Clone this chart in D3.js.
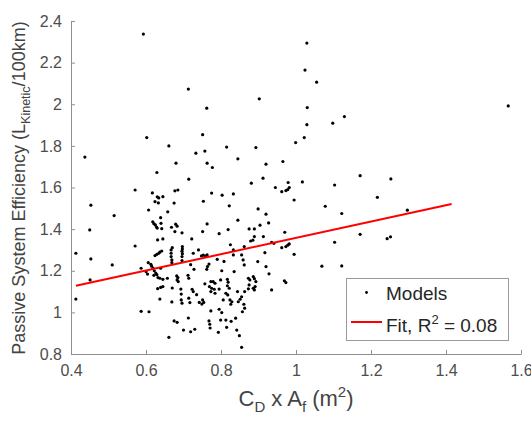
<!DOCTYPE html>
<html>
<head>
<meta charset="utf-8">
<script src="https://cdn.jsdelivr.net/npm/d3@7"></script>
<style>
  body { margin: 0; background: #fff; }
  svg { display: block; }
  text { font-family: "Liberation Sans", Arial, Helvetica, sans-serif; }
</style>
</head>
<body>
<div id="chart"></div>
<script>
// C_D x A_f (m^2) vs passive system efficiency, one point per model
const models = [
  [0.593,2.337],[1.029,2.294],[1.024,2.164],[1.055,2.106],[0.713,2.073],[0.902,2.026],[0.762,1.981],[1.030,1.984],
  [1.566,1.992],[1.029,1.902],[1.098,1.909],[1.129,1.941],[0.751,1.854],[0.602,1.840],[1.022,1.840],[0.999,1.816],
  [0.661,1.800],[0.815,1.794],[0.893,1.792],[0.437,1.746],[0.733,1.765],[0.757,1.775],[0.845,1.738],[0.965,1.725],
  [0.680,1.717],[0.763,1.717],[0.777,1.696],[0.920,1.712],[0.629,1.672],[1.171,1.657],[1.253,1.641],[0.714,1.640],
  [0.881,1.621],[0.912,1.645],[0.979,1.624],[1.017,1.627],[1.103,1.612],[0.945,1.600],[0.962,1.580],[0.973,1.585],
  [0.978,1.590],[0.982,1.600],[0.571,1.588],[0.617,1.574],[0.630,1.555],[0.634,1.550],[0.645,1.556],[0.624,1.532],
  [0.633,1.526],[0.677,1.584],[0.685,1.588],[0.675,1.525],[0.753,1.534],[0.775,1.573],[0.803,1.563],[0.833,1.569],
  [0.995,1.540],[1.217,1.553],[0.453,1.515],[0.515,1.465],[0.607,1.492],[0.658,1.483],[0.639,1.455],[0.822,1.512],
  [0.899,1.497],[1.078,1.510],[1.122,1.475],[1.297,1.491],[0.920,1.472],
  [0.618,1.435],[0.621,1.426],[0.625,1.420],[0.628,1.410],[0.630,1.405],[0.640,1.428],[0.642,1.402],[0.668,1.409],
  [0.679,1.424],[0.683,1.414],[0.677,1.388],[0.696,1.382],[0.722,1.353],[0.751,1.388],[0.763,1.425],[0.795,1.378],
  [0.845,1.443],[0.927,1.430],[0.450,1.396],[0.819,1.398],[0.875,1.401],[0.889,1.401],[0.904,1.419],[0.970,1.385],
  [1.171,1.375],[0.889,1.364],[0.913,1.364],[0.879,1.343],[0.885,1.347],[1.103,1.337],[1.243,1.354],[1.252,1.363],
  [0.571,1.319],[0.631,1.348],[0.645,1.353],[0.670,1.311],[0.697,1.316],[0.825,1.325],[0.862,1.316],[0.935,1.337],
  [0.941,1.332],[0.962,1.311],[0.973,1.316],[0.978,1.323],[0.982,1.329],[0.995,1.279],[1.069,1.222],[1.122,1.223],
  [0.969,1.152],[0.973,1.143],
  [0.413,1.284],[0.453,1.257],[0.510,1.228],[0.413,1.064],[0.451,1.156],[0.587,1.212],[0.587,1.005],[0.608,1.003],
  [0.606,1.239],[0.613,1.231],[0.615,1.222],[0.619,1.212],[0.622,1.200],[0.626,1.189],[0.629,1.181],[0.621,1.178],
  [0.624,1.273],[0.629,1.279],[0.634,1.284],[0.637,1.290],[0.642,1.295],
  [0.639,1.212],[0.637,1.164],[0.645,1.124],[0.631,1.114],[0.637,1.064],[0.657,1.164],
  [0.667,1.300],[0.667,1.284],[0.667,1.268],[0.669,1.252],[0.669,1.239],
  [0.670,1.117],[0.669,1.050],[0.675,0.959],[0.683,0.952],[0.661,0.880],
  [0.683,1.156],[0.686,1.148],[0.682,1.175],[0.685,1.167],
  [0.697,1.305],[0.696,1.294],[0.697,1.282],[0.696,1.268],[0.696,1.249],
  [0.693,1.112],[0.694,1.088],[0.694,1.060],[0.696,1.044],[0.700,0.915],[0.713,0.973],[0.714,1.068],[0.717,1.047],
  [0.712,1.178],[0.714,1.164],[0.719,1.229],[0.726,1.284],[0.723,1.111],[0.726,1.100],[0.735,1.085],[0.730,0.919],
  [0.719,0.907],[0.742,1.048],[0.749,1.040],[0.754,1.048],[0.751,1.060],[0.768,0.959],[0.770,0.943],[0.771,0.925],
  [0.773,1.007],[0.748,1.271],[0.753,1.275],[0.759,1.270],[0.763,1.276],
  [0.833,1.300],[0.833,1.276],[0.855,1.276],[0.917,1.287],[0.762,1.207],[0.802,1.200],[0.835,1.196],[0.859,1.252],
  [0.862,1.228],[0.898,1.244],[0.920,1.220],[0.928,1.185],
  [0.757,1.137],[0.773,1.148],[0.779,1.148],[0.784,1.140],[0.769,1.124],[0.775,1.116],[0.782,1.111],[0.773,1.100],
  [0.784,1.092],[0.799,1.156],[0.817,1.159],[0.819,1.145],[0.795,1.112],[0.817,1.128],[0.822,1.116],[0.813,1.092],
  [0.818,1.084],[0.806,1.060],[0.824,1.060],[0.829,1.051],[0.826,1.039],[0.844,1.100],[0.851,1.063],[0.846,1.051],
  [0.855,1.075],[0.861,1.039],[0.863,1.020],[0.839,0.972],[0.857,1.003],[0.873,1.164],[0.877,1.156],[0.886,1.172],
  [0.889,1.162],[0.893,1.148],[0.875,1.132],[0.873,1.113],[0.886,1.116],[0.889,1.108],[0.891,1.124],[0.863,1.100],
  [0.935,1.108],[0.795,1.015],[0.802,0.999],[0.799,0.963],[0.813,0.963],[0.827,0.957],[0.793,0.904],[0.815,0.928],
  [0.842,0.915],[0.849,0.888],[0.855,0.832],
  [0.600,1.196],[0.604,1.184],[0.632,1.167],[0.645,1.159],[0.639,1.120],[0.728,1.207],[0.764,1.220],[0.768,1.232],
  [0.740,1.300],[0.790,1.255],[0.808,1.245]
];

// linear fit: y = intercept + slope * x, drawn over fitRange
const fitCoef = [0.966, 0.392];
const fitRange = [0.413, 1.415];

const xTicks = [0.4, 0.6, 0.8, 1, 1.2, 1.4, 1.6];
const yTicks = [0.8, 1, 1.2, 1.4, 1.6, 1.8, 2, 2.2, 2.4];

const width = 531,
      height = 423;

const x = d3.scaleLinear().domain([0.4, 1.6]).range([71, 521]);
const y = d3.scaleLinear().domain([0.8, 2.4]).range([354, 21]);

const svg = d3.select("#chart")
  .append("svg")
  .attr("width", width)
  .attr("height", height);

const axisColor = "#8f8f8f",
      tickText = "#4d4d4d";

// x axis, ticks pointing inward
const gx = svg.append("g")
  .attr("transform", `translate(0,${y(0.8)})`)
  .call(d3.axisBottom(x).tickValues(xTicks).tickFormat(d3.format("~g"))
    .tickSize(-4).tickSizeOuter(0).tickPadding(11));

const gy = svg.append("g")
  .attr("transform", `translate(${x(0.4)},0)`)
  .call(d3.axisLeft(y).tickValues(yTicks).tickFormat(d3.format("~g"))
    .tickSize(-4).tickSizeOuter(0).tickPadding(9));

for (let g of [gx, gy]) {
  g.select(".domain").attr("stroke", axisColor);
  g.selectAll(".tick line").attr("stroke", axisColor);
  g.selectAll(".tick text")
    .attr("fill", tickText)
    .attr("font-size", 16)
    .attr("font-family", "Liberation Sans, Arial, sans-serif");
}

// points
svg.append("g")
  .selectAll("circle")
  .data(models)
  .join("circle")
  .attr("cx", d => x(d[0]))
  .attr("cy", d => y(d[1]))
  .attr("r", 1.6)
  .attr("fill", "#000");

// fit line
svg.append("path")
  .datum(fitRange)
  .attr("fill", "none")
  .attr("stroke", "#ff0000")
  .attr("stroke-width", 2)
  .attr("d", d3.line().x(d => x(d)).y(d => y(fitCoef[0] + fitCoef[1] * d)));

// axis labels
const xl = svg.append("text")
  .attr("x", 296)
  .attr("y", 406)
  .attr("text-anchor", "middle")
  .attr("fill", "#444")
  .attr("font-size", 22);
xl.append("tspan").text("C");
xl.append("tspan").attr("font-size", 15).attr("dy", 6).text("D");
xl.append("tspan").attr("dy", -6).text(" x A");
xl.append("tspan").attr("font-size", 15).attr("dy", 6).text("f");
xl.append("tspan").attr("dy", -6).text(" (m");
xl.append("tspan").attr("font-size", 15).attr("dy", -9).text("2");
xl.append("tspan").attr("dy", 9).text(")");

const yl = svg.append("text")
  .attr("transform", "translate(25,188) rotate(-90)")
  .attr("text-anchor", "middle")
  .attr("fill", "#444")
  .attr("font-size", 18);
yl.append("tspan").text("Passive System Efficiency (L");
yl.append("tspan").attr("font-size", 12.5).attr("dy", 5).text("Kinetic");
yl.append("tspan").attr("dy", -5).text("/100km)");

// legend
const lg = svg.append("g");
lg.append("rect")
  .attr("x", 346.5).attr("y", 278.5)
  .attr("width", 162).attr("height", 62)
  .attr("fill", "#fff")
  .attr("stroke", "#9a9a9a");
lg.append("circle")
  .attr("cx", 366.5).attr("cy", 292.5).attr("r", 1.4).attr("fill", "#000");
lg.append("text")
  .attr("x", 386).attr("y", 300)
  .attr("font-size", 19).attr("fill", "#262626")
  .text("Models");
lg.append("line")
  .attr("x1", 351).attr("x2", 382)
  .attr("y1", 322).attr("y2", 322)
  .attr("stroke", "#ff0000").attr("stroke-width", 2);
const ft = lg.append("text")
  .attr("x", 386).attr("y", 332)
  .attr("font-size", 19).attr("fill", "#262626");
ft.append("tspan").text("Fit, R");
ft.append("tspan").attr("font-size", 13).attr("dy", -8).text("2");
ft.append("tspan").attr("dy", 8).text(" = 0.08");
</script>
</body>
</html>
